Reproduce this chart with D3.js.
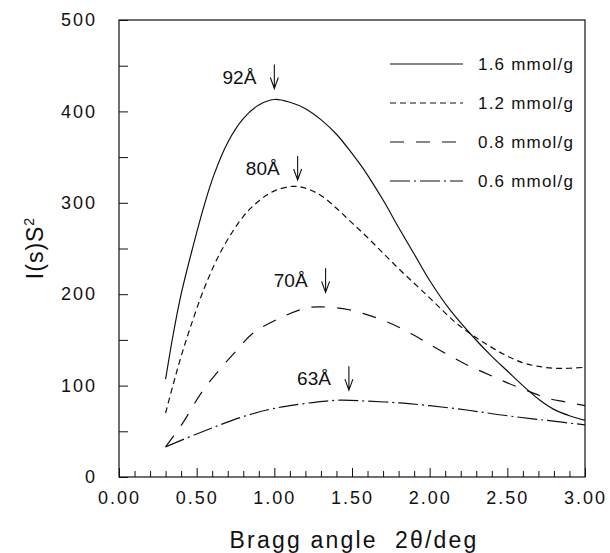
<!DOCTYPE html>
<html>
<head>
<meta charset="utf-8">
<script src="https://cdnjs.cloudflare.com/ajax/libs/d3/7.8.5/d3.min.js"></script>
<style>
body { margin:0; background:#fff; }
svg text { font-family: "Liberation Sans", Arial, sans-serif; fill:#111; }
</style>
</head>
<body>
<div id="chart"></div>
<script>
// values
var loadings = ["1.6 mmol/g", "1.2 mmol/g", "0.8 mmol/g", "0.6 mmol/g"];

var angle16 = [0.30,0.35,0.40,0.47,0.55,0.61,0.70,0.80,0.90,1.00,1.10,1.20,1.30,1.40,1.50,1.57,1.70,1.80,1.90,2.00,2.13,2.26,2.40,2.50,2.60,2.71,2.80,2.90,3.00];
var int16   = [107,157,200,248,298,330,366,392,407,413,410,403,391,375,354,338,303,273,244,215,183,157,132,116,100,84,74,67,62];

var angle12 = [0.30,0.35,0.40,0.46,0.55,0.66,0.80,0.90,1.00,1.12,1.20,1.30,1.40,1.50,1.60,1.70,1.80,1.90,2.00,2.16,2.26,2.34,2.48,2.60,2.70,2.80,2.90,3.00];
var int12   = [70,102,132,164,207,248,285,302,313,318,316,308,294,278,262,245,228,212,196,170,157,148,134,125,121,119,119,120];

var angle08 = [0.30,0.41,0.53,0.65,0.76,0.86,1.05,1.21,1.32,1.45,1.57,1.75,1.90,2.00,2.18,2.26,2.34,2.42,2.50,2.59,2.68,2.76,2.88,3.00];
var int08   = [33,59,92,118,139,157,175,185,186,184,179,168,155,145,128,121,115,109,103,97,91,86,82,78];

var angle06 = [0.30,0.50,0.78,0.97,1.10,1.27,1.42,1.60,1.81,2.00,2.25,2.50,2.75,3.00];
var int06   = [33,47,65,74,78,82,84,83,81,78,73,67,62,57];

// d-spacing labels and where their arrows point (angle, intensity at arrow tip)
var peakLabels = ["92Å", "80Å", "70Å", "63Å"];
var peakAngle  = [1.00, 1.15, 1.33, 1.48];
var peakTip    = [425, 325, 202, 95];

var xTicks = [0, 0.5, 1.0, 1.5, 2.0, 2.5, 3.0];
var yTicks = [0, 100, 200, 300, 400, 500];

var W = 610, H = 553;
var pLeft = 119, pTop = 20, pRight = 585, pBottom = 477;

var svg = d3.select("#chart").append("svg")
    .attr("width", W)
    .attr("height", H);

var x = d3.scaleLinear().domain([0, 3]).range([pLeft, pRight]);
var y = d3.scaleLinear().domain([0, 500]).range([pBottom, pTop]);

var isMajorX = function(d){ return xTicks.indexOf(Math.round(d*10)/10) >= 0; };

// frame
svg.append("rect")
    .attr("x", pLeft).attr("y", pTop)
    .attr("width", pRight - pLeft).attr("height", pBottom - pTop)
    .attr("fill", "none").attr("stroke", "#111").attr("stroke-width", 1.2);

// x axis: minor every 0.1, bigger every 0.5
var xAxis = d3.axisBottom(x)
    .tickValues(d3.range(0, 31).map(function(i){ return i / 10; }))
    .tickSize(-6)
    .tickPadding(14)
    .tickFormat(function(d){ return isMajorX(d) ? d3.format(".2f")(d) : ""; });
var gx = svg.append("g").attr("transform", "translate(0," + pBottom + ")").call(xAxis);
gx.select(".domain").remove();
gx.selectAll(".tick line")
    .attr("y2", function(d){ return isMajorX(d) ? -9 : -6; })
    .attr("stroke", "#111");
gx.selectAll(".tick text")
    .style("font-size", "18px")
    .style("letter-spacing", "2px");

// y axis: ticks every 50, labels every 100
var yAxis = d3.axisLeft(y)
    .tickValues(d3.range(0, 501, 50))
    .tickSize(-9)
    .tickPadding(22)
    .tickFormat(function(d){ return yTicks.indexOf(d) >= 0 ? d : ""; });
var gy = svg.append("g").attr("transform", "translate(" + pLeft + ",0)").call(yAxis);
gy.select(".domain").remove();
gy.selectAll(".tick line").attr("stroke", "#111");
gy.selectAll(".tick text")
    .style("font-size", "18px")
    .style("letter-spacing", "2px");

// axis titles
svg.append("text")
    .attr("x", 354).attr("y", 548)
    .attr("text-anchor", "middle")
    .style("font-size", "23px")
    .style("letter-spacing", "2.2px")
    .text("Bragg angle \u00a02θ/deg");

var yt = svg.append("text")
    .attr("transform", "translate(43,248) rotate(-90)")
    .attr("text-anchor", "middle")
    .style("font-size", "23px")
    .style("letter-spacing", "1px");
yt.append("tspan").text("I(s)S");
yt.append("tspan").attr("dy", -9).style("font-size", "14px").text("2");

// curves
var series = [
    {name: loadings[0], xs: angle16, ys: int16},
    {name: loadings[1], xs: angle12, ys: int12},
    {name: loadings[2], xs: angle08, ys: int08},
    {name: loadings[3], xs: angle06, ys: int06}
];
var dashes = ["none", "6,4", "14,12", "20,4,2,4"];

var line = d3.line()
    .x(function(d){ return x(d[0]); })
    .y(function(d){ return y(d[1]); })
    .curve(d3.curveCatmullRom.alpha(0.5));

series.forEach(function(s, i){
    var pts = s.xs.map(function(a, j){ return [a, s.ys[j]]; });
    svg.append("path")
        .datum(pts)
        .attr("d", line)
        .attr("fill", "none")
        .attr("stroke", "#111")
        .attr("stroke-width", 1.2)
        .attr("stroke-dasharray", dashes[i]);
});

// legend
var legend = svg.append("g").attr("transform", "translate(390,64)");
series.forEach(function(s, i){
    var row = legend.append("g").attr("transform", "translate(0," + (i * 39) + ")");
    row.append("line")
        .attr("x1", 0).attr("x2", 73)
        .attr("y1", 0).attr("y2", 0)
        .attr("stroke", "#111")
        .attr("stroke-width", 1.2)
        .attr("stroke-dasharray", dashes[i]);
    row.append("text")
        .attr("x", 88).attr("y", 6)
        .style("font-size", "17px")
        .style("letter-spacing", "1.2px")
        .text(s.name);
});

// d-spacing arrows
peakLabels.forEach(function(lab, i){
    var ax = x(peakAngle[i]), ay = y(peakTip[i]);
    var g = svg.append("g");
    g.append("path")
        .attr("d", "M" + ax + "," + (ay - 24) + "V" + ay +
                   "M" + (ax - 4) + "," + (ay - 11) + "L" + ax + "," + ay + "L" + (ax + 4) + "," + (ay - 11))
        .attr("fill", "none")
        .attr("stroke", "#111")
        .attr("stroke-width", 1.1);
    g.append("text")
        .attr("x", ax - 18).attr("y", ay - 5)
        .attr("text-anchor", "end")
        .style("font-size", "19px")
        .text(lab);
});
</script>
</body>
</html>
